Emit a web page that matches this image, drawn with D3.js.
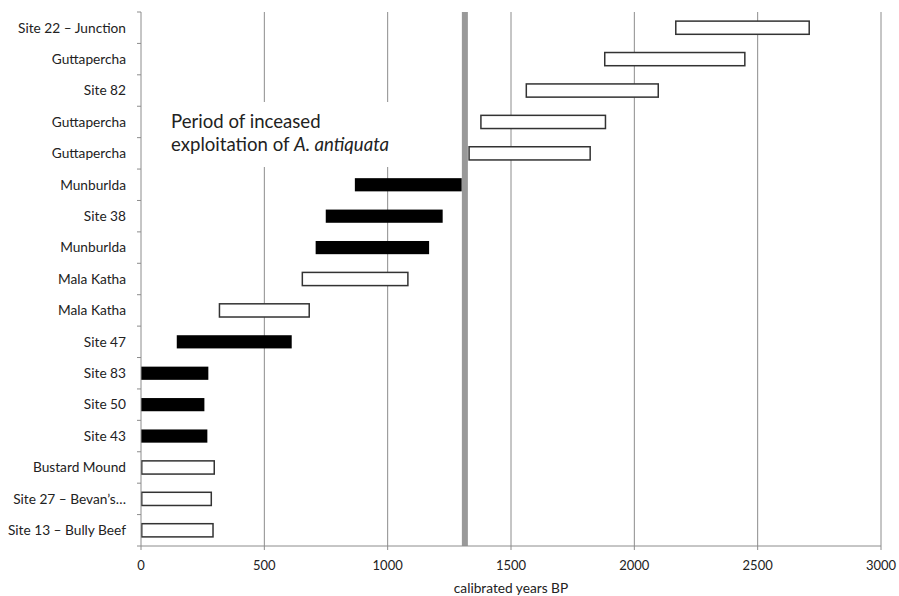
<!DOCTYPE html>
<html><head><meta charset="utf-8">
<script src="https://cdn.jsdelivr.net/npm/d3@7"></script>
<style>body{margin:0;background:#fff;} text{font-family:Lato,"Open Sans",sans-serif;}</style>
</head><body><svg id="c" width="899" height="596"></svg>
<script>
const sites = ["Site 22 – Junction","Guttapercha","Site 82","Guttapercha","Guttapercha","Munburlda","Site 38","Munburlda","Mala Katha","Mala Katha","Site 47","Site 83","Site 50","Site 43","Bustard Mound","Site 27 – Bevan’s…","Site 13 – Bully Beef"];
const startYears = [2165,1877,1559,1375,1327,867,749,708,651,315,145,0,0,0,0,0,0];
const endYears   = [2712,2451,2100,1886,1824,1300,1223,1168,1085,685,611,273,257,269,300,288,295];
const filled     = [false,false,false,false,false,true,true,true,false,false,true,true,true,true,false,false,false];
const xTicks = [0,500,1000,1500,2000,2500,3000];
const markerYear = 1313;
const xTitle = "calibrated years BP";

const svg = d3.select("#c");
const L = 141, R = 881, T = 12, B = 546;
const x = d3.scaleLinear().domain([0,3000]).range([L,R]);
const idx = sites.map((d,i)=>i);
const y = d3.scaleBand().domain(idx).range([T,B]).paddingInner(0.58).paddingOuter(0.29);

// gridlines
svg.append("g").selectAll("line").data(xTicks.slice(1)).join("line")
  .attr("x1",d=>x(d)).attr("x2",d=>x(d)).attr("y1",T).attr("y2",B)
  .attr("stroke","#8c8c8c").attr("stroke-width",1);

// annotation background
svg.append("rect").attr("x",166).attr("y",102).attr("width",236).attr("height",65).attr("fill","#fff");

// marker line
svg.append("rect").attr("x",x(markerYear)-3).attr("y",T).attr("width",6).attr("height",B-T).attr("fill","#999");

// bars
svg.append("g").selectAll("rect").data(idx).join("rect")
  .attr("x",i=>x(startYears[i])+(filled[i]?0:0.75))
  .attr("y",i=>y(i))
  .attr("width",i=>x(endYears[i])-x(startYears[i])-(filled[i]?0:1.5))
  .attr("height",y.bandwidth())
  .attr("fill",i=>filled[i]?"#000":"#fff")
  .attr("stroke",i=>filled[i]?"none":"#333")
  .attr("stroke-width",1.5);

// y axis
const step = (B-T)/sites.length;
const ya = svg.append("g");
ya.append("line").attr("x1",L).attr("x2",L).attr("y1",T).attr("y2",B).attr("stroke","#8c8c8c");
ya.selectAll("line.t").data(d3.range(sites.length+1)).join("line").attr("class","t")
  .attr("x1",L-4).attr("x2",L).attr("y1",i=>T+i*step).attr("y2",i=>T+i*step).attr("stroke","#8c8c8c");
ya.selectAll("text").data(idx).join("text")
  .attr("x",126).attr("y",i=>y(i)+y.bandwidth()/2).attr("dy","0.35em")
  .attr("text-anchor","end").attr("font-size",13.7).attr("fill","#222").text(i=>sites[i]);

// x axis
const xa = svg.append("g");
xa.append("line").attr("x1",L).attr("x2",R).attr("y1",B).attr("y2",B).attr("stroke","#8c8c8c");
xa.selectAll("line.t").data(xTicks).join("line").attr("class","t")
  .attr("x1",d=>x(d)).attr("x2",d=>x(d)).attr("y1",B).attr("y2",B+4).attr("stroke","#8c8c8c");
xa.selectAll("text").data(xTicks).join("text")
  .attr("x",d=>x(d)).attr("y",570).attr("text-anchor","middle").attr("font-size",13).attr("fill","#222").text(d=>d);
svg.append("text").attr("x",511).attr("y",593).attr("text-anchor","middle").attr("font-size",13.7).attr("fill","#222").text(xTitle);

// annotation
const ann = svg.append("text").attr("font-size",18.6).attr("fill","#222");
ann.append("tspan").attr("x",171).attr("y",128).text("Period of inceased");
const t2 = ann.append("tspan").attr("x",171).attr("y",151);
t2.text("exploitation of ");
ann.append("tspan").attr("font-style","italic").text("A. antiquata");
</script></body></html>
